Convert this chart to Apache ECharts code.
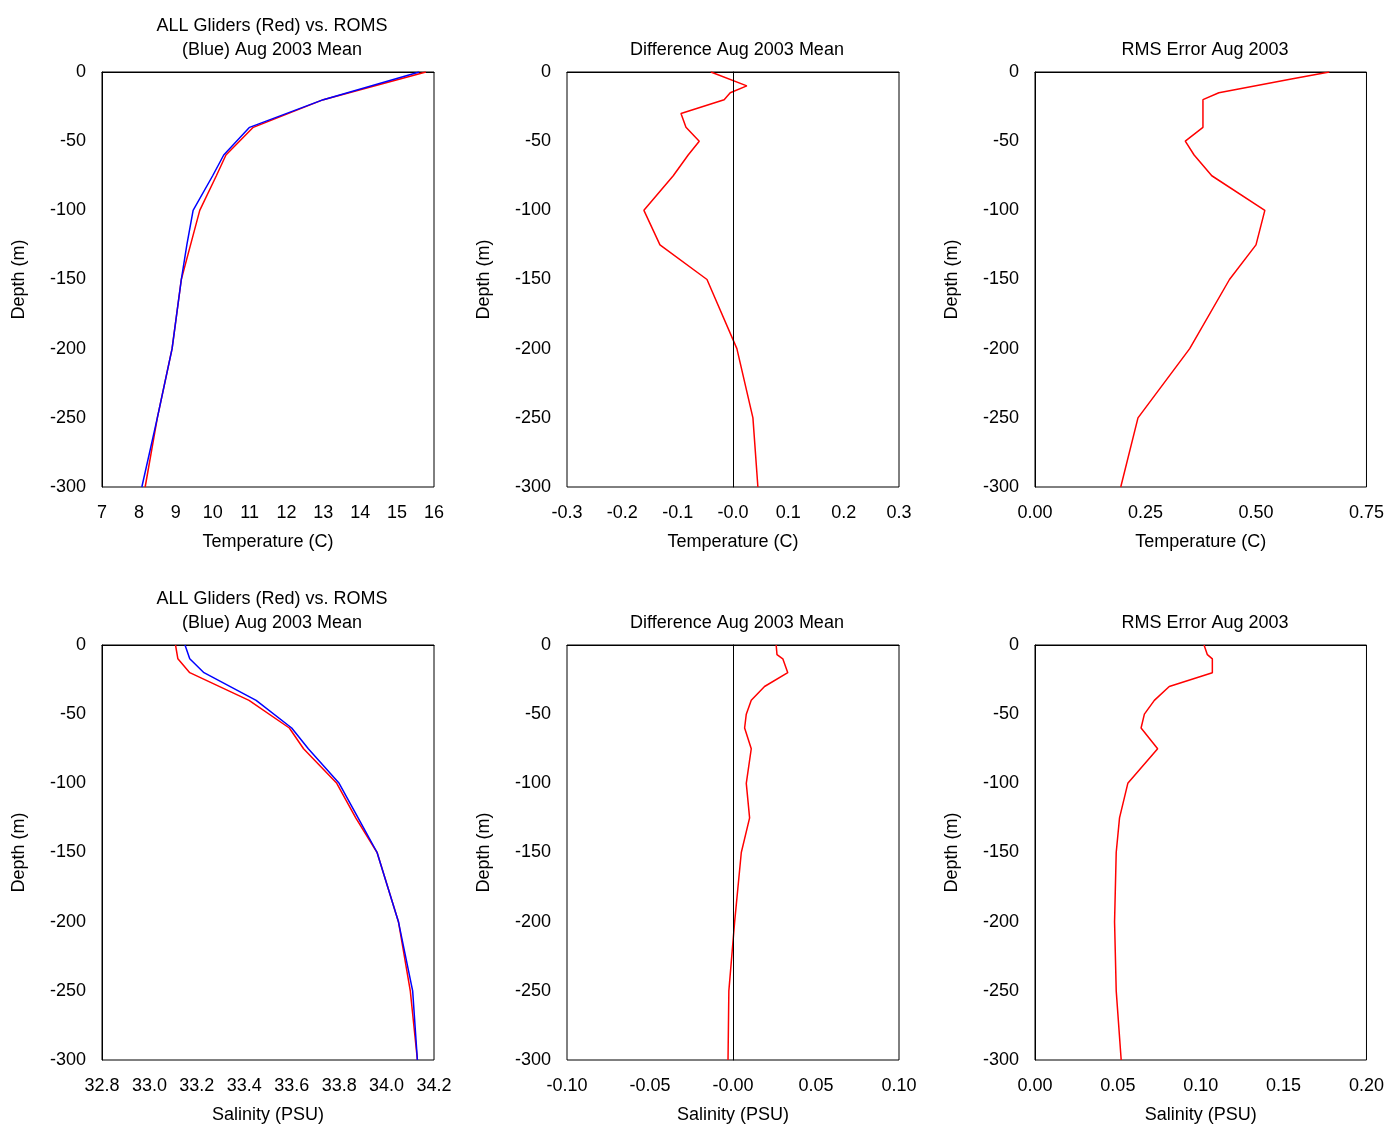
<!DOCTYPE html><html><head><meta charset="utf-8"><script src="https://cdn.jsdelivr.net/npm/echarts@6/dist/echarts.min.js"></script></head><body style="margin:0;overflow:hidden"><div id="c" style="width:1387px;height:1127px"></div><script>
const depthT1=[0,-20,-40,-60,-75,-100,-125,-150,-200,-250,-300];
const gliderT=[15.78,13.0,11.1,10.36,10.1,9.65,9.4,9.15,8.9,8.5,8.17];
const romsT=[15.6,13.0,11.0,10.3,10.0,9.47,9.3,9.15,8.9,8.5,8.08];
const depthT2=[0,-10,-15,-20,-30,-40,-50,-60,-75,-100,-125,-150,-200,-250,-300];
const diffT=[-0.04,0.025,-0.005,-0.016,-0.094,-0.085,-0.061,-0.081,-0.108,-0.161,-0.132,-0.047,0.007,0.036,0.045];
const depthT3=[0,-5,-15,-20,-40,-50,-60,-75,-100,-125,-150,-200,-250,-300];
const rmsT=[0.666,0.58,0.416,0.38,0.38,0.34,0.36,0.40,0.52,0.50,0.44,0.35,0.233,0.194];
const depthS1=[0,-10,-20,-40,-60,-75,-100,-125,-150,-200,-250,-300];
const gliderS=[33.11,33.12,33.17,33.42,33.59,33.65,33.79,33.87,33.96,34.05,34.10,34.13];
const romsS=[33.15,33.17,33.23,33.45,33.60,33.67,33.80,33.88,33.96,34.05,34.11,34.13];
const depthS2=[0,-7,-10,-20,-30,-40,-50,-60,-75,-100,-125,-150,-200,-250,-300];
const diffS=[0.026,0.0265,0.030,0.033,0.019,0.011,0.008,0.007,0.011,0.008,0.010,0.005,0.001,-0.0025,-0.003];
const rmsS=[0.102,0.104,0.107,0.107,0.081,0.072,0.066,0.064,0.074,0.056,0.051,0.049,0.048,0.049,0.052];
const F='Liberation Sans, Arial, sans-serif', FS=18;
const lefts=[102,567,1035], tops=[72,645], W=332, H=415;
const xs=[
 {min:7,max:16,interval:1,d:0,name:'Temperature (C)'},
 {min:-0.3,max:0.3,interval:0.1,d:1,name:'Temperature (C)',neg:true},
 {min:0,max:0.75,interval:0.25,d:2,name:'Temperature (C)'},
 {min:32.8,max:34.2,interval:0.2,d:1,name:'Salinity (PSU)'},
 {min:-0.1,max:0.1,interval:0.05,d:2,name:'Salinity (PSU)',neg:true},
 {min:0,max:0.2,interval:0.05,d:2,name:'Salinity (PSU)'}];
const titles=['ALL Gliders (Red) vs. ROMS\n(Blue) Aug 2003 Mean','Difference Aug 2003 Mean','RMS Error Aug 2003'];
const grid=[],xAxis=[],yAxis=[],title=[],series=[];
for(let i=0;i<6;i++){
 const r=Math.floor(i/3),c=i%3;
 grid.push({left:lefts[c],top:tops[r],width:W,height:H,show:true,borderColor:'#000',borderWidth:1});
 const a=xs[i];
 xAxis.push({type:'value',gridIndex:i,min:a.min,max:a.max,interval:a.interval,name:a.name,nameLocation:'middle',nameGap:46,
  nameTextStyle:{fontFamily:F,fontSize:FS,color:'#000'},splitLine:{show:false},axisTick:{show:false},
  axisLine:{lineStyle:{color:'#000'}},
  axisLabel:{fontFamily:F,fontSize:FS,color:'#000',margin:17,formatter:v=>{let s=v.toFixed(a.d);if(a.neg&&Math.abs(v)<1e-9)s='-'+(0).toFixed(a.d);return s;}}});
 yAxis.push({type:'value',gridIndex:i,min:-300,max:0,interval:50,name:'Depth (m)',nameLocation:'middle',nameGap:74,
  nameTextStyle:{fontFamily:F,fontSize:FS,color:'#000'},splitLine:{show:false},axisTick:{show:false},
  axisLine:{lineStyle:{color:'#000'}},axisLabel:{fontFamily:F,fontSize:FS,color:'#000',margin:16}});
 title.push({text:titles[c],left:lefts[c]+W/2-1,textAlign:'center',top:r==0?(c==0?9:33):(c==0?582:606),
  textStyle:{fontFamily:F,fontSize:FS,fontWeight:'normal',color:'#000',lineHeight:24}});
}
const z=(a,b)=>a.map((v,k)=>[v,b[k]]);
function L(i,data,color,extra){series.push(Object.assign({type:'line',xAxisIndex:i,yAxisIndex:i,data,symbol:'none',lineStyle:{color,width:1.5},itemStyle:{color},animation:false},extra||{}));}
const zl={markLine:{silent:true,symbol:'none',label:{show:false},lineStyle:{color:'#000',width:1,type:'solid'},data:[{xAxis:0}]}};
L(0,z(gliderT,depthT1),'#f00');L(0,z(romsT,depthT1),'#00f');
L(1,z(diffT,depthT2),'#f00',zl);
L(2,z(rmsT,depthT3),'#f00');
L(3,z(gliderS,depthS1),'#f00');L(3,z(romsS,depthS1),'#00f');
L(4,z(diffS,depthS2),'#f00',zl);
L(5,z(rmsS,depthS2),'#f00');
echarts.init(document.getElementById('c')).setOption({backgroundColor:'#fff',title,grid,xAxis,yAxis,series,animation:false});
</script></body></html>
